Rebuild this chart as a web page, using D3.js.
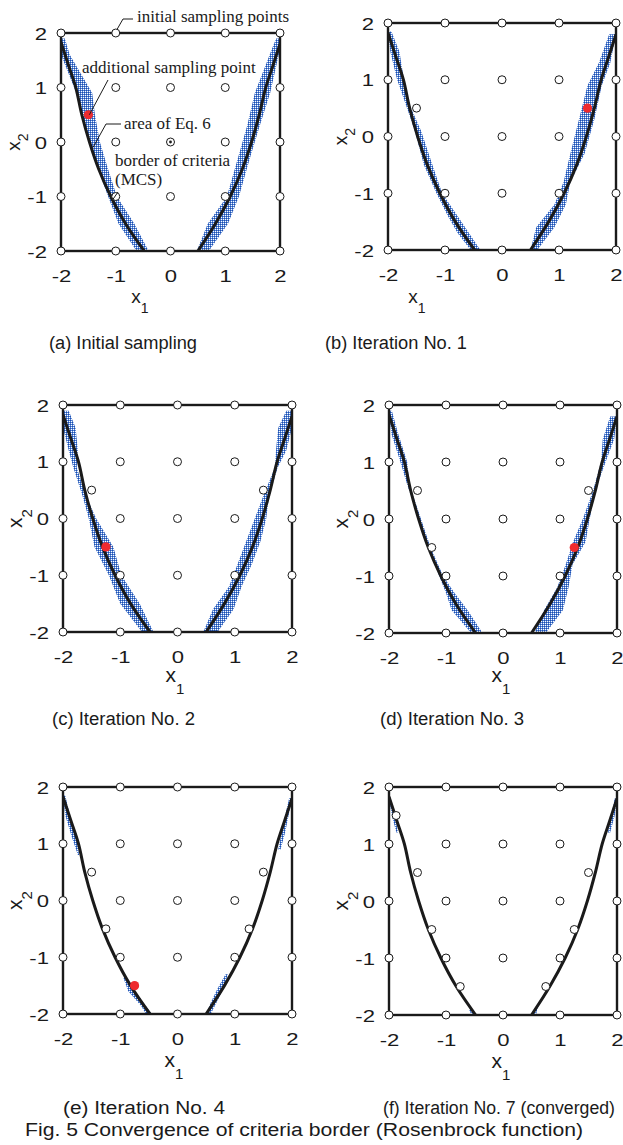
<!DOCTYPE html>
<html>
<head>
<meta charset="utf-8">
<script src="https://cdn.jsdelivr.net/npm/d3@7"></script>
<style>
  body { margin: 0; background: #fff; }
  svg { display: block; }
</style>
</head>
<body>
<div id="chart"></div>
<script>
// ---- data ----
const ticks = [-2, -1, 0, 1, 2];
const initialX1 = [-2, -1, 0, 1, 2];
const initialX2 = [-2, -1, 0, 1, 2];

// additional sampling points, in the order they were added
const addedX1 = [-1.5, 1.5, -1.25, 1.25, -0.75, 0.75, -1.875];
const addedX2 = [0.5, 0.5, -0.5, -0.5, -1.5, -1.5, 1.5];

const iterations = [0, 1, 2, 3, 4, 7];
const converged = [false, false, false, false, false, true];
const captions = ["(a) Initial sampling", "(b) Iteration No. 1", "(c) Iteration No. 2",
                  "(d) Iteration No. 3", "(e) Iteration No. 4", "(f) Iteration No. 7 (converged)"];
const figCaption = "Fig. 5 Convergence of criteria border (Rosenbrock function)";

// border of criteria (MCS), [x1, x2]
const borderLeft = [[-2, 1.83], [-1.86, 1.4], [-1.73, 1.0], [-1.62, 0.5], [-1.48, 0.0],
                    [-1.31, -0.5], [-1.09, -1.0], [-0.82, -1.5], [-0.48, -2.0]];
const borderRight = [[0.5, -2.0], [0.82, -1.5], [1.09, -1.0], [1.31, -0.5], [1.48, 0.0],
                     [1.62, 0.5], [1.74, 1.0], [1.87, 1.4], [2, 1.8]];

// area of Eq. 6, rows of [x2, x1 from, x1 to]; equal ends = no area there
const bandLeft_a = [[-2, -0.62, -0.40], [-1.5, -0.95, -0.66], [-1.0, -1.14, -0.98], [-0.5, -1.32, -1.14],
                    [0, -1.47, -1.29], [0.5, -1.62, -1.38], [0.9, -1.72, -1.43], [1.6, -2.0, -1.84], [1.9, -2.0, -1.93]];
const bandRight_a = [[-2, 0.48, 0.70], [-1.5, 0.68, 1.05], [-1.0, 1.03, 1.25], [-0.3, 1.23, 1.45],
                     [0.3, 1.40, 1.63], [0.9, 1.54, 1.82], [1.7, 1.85, 2.0], [1.9, 1.93, 2.0]];
const bandLeft_b = [[-2, -0.55, -0.38], [-1.7, -0.78, -0.58], [-1.4, -0.95, -0.78], [-1.0, -1.15, -1.05],
                    [-0.5, -1.37, -1.22], [0.1, -1.53, -1.42], [0.6, -1.7, -1.64], [1.0, -1.84, -1.72],
                    [1.5, -1.96, -1.8], [1.85, -2, -1.94]];
const bandRight_b = [[-2, 0.5, 0.62], [-1.6, 0.6, 0.92], [-1.2, 0.92, 1.12], [-0.8, 1.08, 1.2], [-0.3, 1.2, 1.45],
                     [0.3, 1.35, 1.62], [0.9, 1.5, 1.75], [1.3, 1.7, 1.9], [1.8, 1.88, 2.0]];
const bandLeft_c = [[-2, -0.62, -0.42], [-1.5, -1.0, -0.66], [-1.0, -1.2, -0.98], [-0.5, -1.45, -1.12],
                    [0, -1.55, -1.42], [0.4, -1.66, -1.6], [0.9, -1.82, -1.76], [1.2, -1.9, -1.74],
                    [1.6, -2, -1.78], [1.9, -2, -1.9]];
const bandRight_c = [[-2, 0.45, 0.7], [-1.6, 0.62, 0.98], [-1.2, 0.9, 1.12], [-0.8, 1.05, 1.3], [-0.4, 1.2, 1.45],
                     [0, 1.35, 1.55], [0.4, 1.5, 1.6], [0.9, 1.7, 1.75], [1.2, 1.72, 1.9], [1.6, 1.76, 2.0], [1.9, 1.9, 2.0]];
const bandLeft_d = [[-2, -0.56, -0.36], [-1.6, -0.9, -0.62], [-1.3, -1.0, -0.85], [-1.0, -1.12, -1.05],
                    [-0.5, -1.3, -1.27], [0.6, -1.68, -1.64], [1.0, -1.8, -1.68], [1.5, -1.96, -1.84], [1.9, -2, -1.95]];
const bandRight_d = [[-2, 0.55, 0.75], [-1.6, 0.72, 1.05], [-1.2, 0.95, 1.15], [-0.8, 1.1, 1.22], [-0.4, 1.23, 1.45],
                     [0, 1.4, 1.52], [0.5, 1.58, 1.62], [1.0, 1.72, 1.8], [1.4, 1.75, 1.95], [1.8, 1.88, 2.0]];
const bandLeft_e = [[-2, -0.55, -0.45], [-1.85, -0.64, -0.56], [-1.6, -0.86, -0.74], [-1.35, -0.95, -0.92],
                    [-1.0, -1.1, -1.1], [0.4, -1.6, -1.6], [0.8, -1.74, -1.72], [1.1, -1.84, -1.76],
                    [1.5, -1.96, -1.88], [1.85, -2, -1.96]];
const bandRight_e = [[-2, 0.5, 0.58], [-1.8, 0.58, 0.68], [-1.55, 0.7, 0.8], [-1.3, 0.84, 0.88], [-1.0, 1.04, 1.04],
                     [0.5, 1.65, 1.65], [0.9, 1.76, 1.8], [1.2, 1.82, 1.88], [1.5, 1.88, 1.94], [1.8, 1.95, 2.0]];
const bandLeft_f = [[-2, -0.55, -0.48], [-1.9, -0.6, -0.56], [-1.8, -0.66, -0.66], [0.9, -1.78, -1.78], [1.2, -1.87, -1.84],
                    [1.5, -1.95, -1.9], [1.8, -2, -1.97]];
const bandRight_f = [[-2, 0.5, 0.58], [-1.9, 0.56, 0.6], [-1.85, 0.6, 0.62], [0.9, 1.77, 1.77], [1.2, 1.84, 1.88],
                     [1.5, 1.9, 1.96], [1.8, 1.96, 2.0]];

const bandsLeft = [bandLeft_a, bandLeft_b, bandLeft_c, bandLeft_d, bandLeft_e, bandLeft_f];
const bandsRight = [bandRight_a, bandRight_b, bandRight_c, bandRight_d, bandRight_e, bandRight_f];

// ---- layout ----
const W = 623, H = 1145;
const layout = [
  { l: 61,  t: 33,  w: 219, h: 218, xlab: [140, 303], cap: [49, 349, 148], row: 0 },
  { l: 388, t: 23,  w: 228, h: 227, xlab: [417, 303], cap: [325, 349, 142], row: 0 },
  { l: 63,  t: 405, w: 229, h: 227, xlab: [175, 682], cap: [52, 725, 143], row: 1 },
  { l: 389, t: 405, w: 228, h: 228, xlab: [501, 682], cap: [380, 725, 144], row: 1 },
  { l: 63,  t: 787, w: 229, h: 227, xlab: [174, 1067], cap: [63, 1114, 162], row: 2 },
  { l: 389, t: 787, w: 228, h: 228, xlab: [501, 1068], cap: [383, 1114, 232], row: 2 }
];
const sans = "'Liberation Sans', Arial, Helvetica, sans-serif";
const serif = "'Liberation Serif', 'Times New Roman', serif";

const svg = d3.select('#chart').append('svg')
  .attr('width', W)
  .attr('height', H);

// blue texture for the area of Eq. 6 (anchored to the page grid)
const defs = svg.append('defs');
const pat = defs.append('pattern')
  .attr('id', 'dots')
  .attr('patternUnits', 'userSpaceOnUse')
  .attr('width', 2).attr('height', 2);
pat.append('rect').attr('width', 2).attr('height', 2).attr('fill', '#5583d2');
pat.append('rect').attr('width', 1).attr('height', 1).attr('fill', '#1d4eb0');
pat.append('rect').attr('x', 1).attr('y', 1).attr('width', 1).attr('height', 1).attr('fill', '#ffffff');

const bandLayer = svg.append('g');

layout.forEach((p, i) => drawPanel(p, i));

function drawPanel(p, i) {
  const x = d3.scaleLinear().domain([-2, 2]).range([0, p.w]);
  const y = d3.scaleLinear().domain([-2, 2]).range([p.h, 0]);
  // same scales in page coordinates, for the textured band
  const xp = d3.scaleLinear().domain([-2, 2]).range([p.l, p.l + p.w]);
  const yp = d3.scaleLinear().domain([-2, 2]).range([p.t + p.h, p.t]);

  defs.append('clipPath').attr('id', 'pclip' + i)
    .append('rect').attr('x', p.l).attr('y', p.t).attr('width', p.w).attr('height', p.h);

  // area of Eq. 6
  const band = d3.area()
    .defined(d => d[2] > d[1])
    .y(d => yp(d[0]))
    .x0(d => xp(d[1]))
    .x1(d => xp(d[2]))
    .curve(d3.curveLinear);
  const bl = bandLayer.append('g').attr('clip-path', 'url(#pclip' + i + ')');
  [bandsLeft[i], bandsRight[i]].forEach(b => {
    bl.append('path')
      .attr('d', band(b))
      .attr('fill', 'url(#dots)');
  });

  const g = svg.append('g').attr('transform', 'translate(' + p.l + ',' + p.t + ')');

  defs.append('clipPath').attr('id', 'clip' + i)
    .append('rect').attr('width', p.w).attr('height', p.h);
  const inner = g.append('g').attr('clip-path', 'url(#clip' + i + ')');

  // border of criteria (MCS)
  const line = d3.line()
    .x(d => x(d[0]))
    .y(d => y(d[1]))
    .curve(d3.curveCatmullRom);
  [borderLeft, borderRight].forEach(b => {
    inner.append('path')
      .attr('d', line(b))
      .attr('fill', 'none')
      .attr('stroke', '#1a1a1a')
      .attr('stroke-width', 3);
  });

  // frame
  g.append('rect')
    .attr('x', x(-2)).attr('y', y(2))
    .attr('width', x(2) - x(-2)).attr('height', y(-2) - y(2))
    .attr('fill', 'none')
    .attr('stroke', '#1a1a1a')
    .attr('stroke-width', 2.4);

  // axes (labels only)
  const yAxis = g.append('g')
    .call(d3.axisLeft(y).tickValues(ticks).tickSize(0).tickFormat(d => String(d)));
  const xAxis = g.append('g')
    .attr('transform', 'translate(0,' + p.h + ')')
    .call(d3.axisBottom(x).tickValues(ticks).tickSize(0).tickFormat(d => String(d)));
  [xAxis, yAxis].forEach(a => {
    a.select('.domain').remove();
    a.selectAll('text')
      .attr('fill', '#1a1a1a')
      .style('font-family', sans)
      .style('font-size', '17px');
  });
  const sx = 1.3;
  yAxis.selectAll('text')
    .attr('x', -14 / sx)
    .attr('dy', '0.36em')
    .attr('transform', 'scale(' + sx + ',1)');
  xAxis.selectAll('text')
    .attr('y', 31)
    .attr('dy', 0)
    .attr('transform', 'scale(' + sx + ',1)');

  // sampling points
  const initPts = d3.cross(initialX1, initialX2);
  const n = iterations[i];
  const openPts = addedX1.slice(0, n).map((v, k) => [v, addedX2[k]]);
  g.append('g').selectAll('circle')
    .data(initPts.concat(openPts))
    .enter().append('circle')
      .attr('cx', d => x(d[0]))
      .attr('cy', d => y(d[1]))
      .attr('r', 4)
      .attr('fill', '#fff')
      .attr('stroke', '#1a1a1a')
      .attr('stroke-width', 1);

  if (!converged[i] && n < addedX1.length) {
    g.append('circle')
      .attr('cx', x(addedX1[n]))
      .attr('cy', y(addedX2[n]))
      .attr('r', 4.6)
      .attr('fill', '#ee2a2e');
  }

  // axis titles
  const big = p.row === 0 ? 19 : 21;
  const small = p.row === 0 ? 14 : 15;
  const sub = p.row === 0 ? 10 : 12;
  const xl = svg.append('text')
    .attr('x', p.xlab[0]).attr('y', p.xlab[1])
    .attr('text-anchor', 'middle')
    .style('font-family', sans)
    .attr('fill', '#1a1a1a');
  xl.append('tspan').style('font-size', big + 'px').text('x');
  xl.append('tspan').style('font-size', small + 'px').attr('dy', sub).text('1');

  const yl = svg.append('text')
    .attr('transform', 'translate(' + (p.l - 41) + ',' + (p.t + p.h / 2) + ') rotate(-90)')
    .attr('text-anchor', 'middle')
    .style('font-family', sans)
    .attr('fill', '#1a1a1a');
  yl.append('tspan').style('font-size', big + 'px').text('x');
  yl.append('tspan').style('font-size', small + 'px').attr('dy', sub - 2).text('2');

  // caption
  svg.append('text')
    .attr('x', p.cap[0]).attr('y', p.cap[1])
    .attr('textLength', p.cap[2])
    .attr('lengthAdjust', 'spacingAndGlyphs')
    .style('font-family', sans)
    .style('font-size', '18px')
    .attr('fill', '#1a1a1a')
    .text(captions[i]);

  if (i === 0) annotate(g, x, y);
}

// callouts of panel (a)
function annotate(g, x, y) {
  const a = g.append('g')
    .style('font-family', serif)
    .style('font-size', '17px')
    .attr('fill', '#1a1a1a');
  const lead = pts => a.append('path')
    .attr('d', d3.line()(pts))
    .attr('fill', 'none')
    .attr('stroke', '#1a1a1a')
    .attr('stroke-width', 1);

  // the marked point at the centre
  a.append('circle').attr('cx', x(0)).attr('cy', y(0)).attr('r', 1.4);

  lead([[x(-1) + 1.5, y(2) - 4], [62, -14], [72, -14]]);
  a.append('text').attr('x', 76).attr('y', -11).text('initial sampling points');

  lead([[x(addedX1[0]) + 1, y(addedX2[0])], [47, 47]]);
  a.append('text').attr('x', 21).attr('y', 40).text('additional sampling point');

  lead([[x(-1.47) + 3, y(-0.1)], [45, 91], [60, 91]]);
  a.append('text').attr('x', 63).attr('y', 96).text('area of Eq. 6');

  a.append('text').attr('x', 54).attr('y', 133).text('border of criteria');
  a.append('text').attr('x', 54).attr('y', 152).text('(MCS)');
  lead([[57, 159], [x(-1.05), y(-1.05)]]);
}

// figure caption
svg.append('text')
  .attr('x', 25).attr('y', 1136)
  .attr('textLength', 558)
  .attr('lengthAdjust', 'spacingAndGlyphs')
  .style('font-family', sans)
  .style('font-size', '18px')
  .attr('fill', '#1a1a1a')
  .text(figCaption);
</script>
</body>
</html>
